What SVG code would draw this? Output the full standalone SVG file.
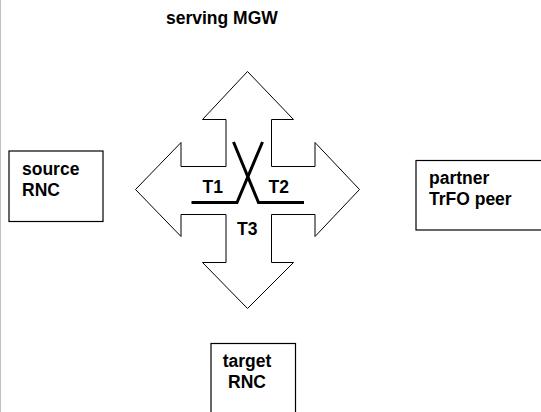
<svg xmlns="http://www.w3.org/2000/svg" width="541" height="412" viewBox="0 0 541 412">
<style>
text{font-family:"Liberation Sans",Arial,sans-serif;font-weight:bold;font-size:17.5px;fill:#000}
.box{fill:#fff;stroke:#000;stroke-width:1.2}
.arrow{fill:#fff;stroke:#000;stroke-width:1}
.x{fill:none;stroke:#000;stroke-width:3;stroke-linejoin:miter}
</style>
<rect width="541" height="412" fill="#fff"/>
<line x1="0.5" y1="0" x2="0.5" y2="412" stroke="#c0c0c0" stroke-width="1"/>
<g id="serving-mgw">
<text x="166" y="24.3">serving MGW</text>
</g>
<g id="connectors">
<polygon class="arrow" points="247.5,71.5 293.5,119.5 271.5,119.5 271.5,166.5 315,166.5 315,142.5 359.5,189.5 315,236.5 315,214.5 271.5,214.5 271.5,262.5 293.5,262.5 247.5,308.5 202.5,262.5 226,262.5 226,214.5 181,214.5 181,236.5 135.5,189.5 181,142.5 181,166.5 226,166.5 226,119.5 202.5,119.5"/>
<polyline class="x" points="233.5,142 258.5,202.5 304,202.5"/>
<polyline class="x" points="262.5,142 237,202.5 191.5,202.5"/>
<text x="202.5" y="193">T1</text>
<text x="268.5" y="193">T2</text>
<text x="237" y="235">T3</text>
</g>
<g id="source-rnc">
<rect class="box" x="9" y="151" width="94" height="70.5"/>
<text x="22" y="175">source</text>
<text x="22" y="196">RNC</text>
</g>
<g id="partner-trfo-peer">
<rect class="box" x="416" y="160.5" width="130" height="69.5"/>
<text x="429" y="183.5">partner</text>
<text x="429" y="204.5">TrFO peer</text>
</g>
<g id="target-rnc">
<rect class="box" x="211" y="343.5" width="84.5" height="75"/>
<text x="247" y="367" text-anchor="middle">target</text>
<text x="247" y="388" text-anchor="middle">RNC</text>
</g>
</svg>
